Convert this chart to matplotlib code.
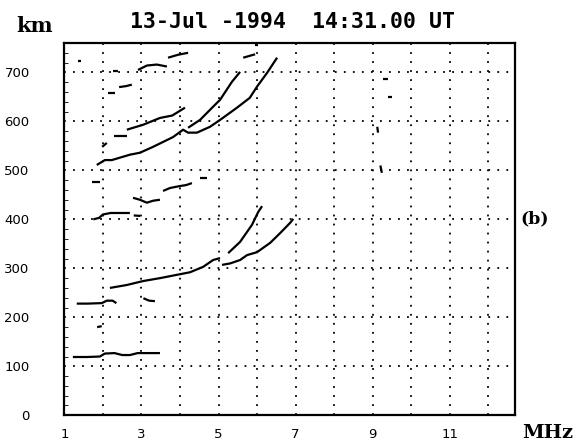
import matplotlib
matplotlib.use('Agg')
import matplotlib.pyplot as plt
from matplotlib.ticker import MultipleLocator

# ionogram traces, frequency in MHz and virtual height in km
e_f = [1.22, 1.6, 1.92, 2.05, 2.3, 2.5, 2.7, 2.9, 3.2, 3.48]
e_h = [119, 119, 120, 126, 127, 123, 123, 127, 127, 127]

es_f = [1.32, 1.6, 1.97, 2.1, 2.25, 2.35]
es_h = [228, 228, 229, 234, 234, 229]
es2_f = [3.05, 3.2, 3.35]
es2_h = [239, 234, 233]
dot180_f = [1.85, 1.97]
dot180_h = [180, 182]

f1_f = [2.18, 2.62, 3.04, 3.48, 4.0, 4.26, 4.6, 4.86, 5.04]
f1_h = [260, 266, 274, 280, 288, 292, 303, 317, 321]
f2x_f = [5.09, 5.3, 5.56, 5.74, 6.0, 6.34, 6.6, 6.86, 6.94]
f2x_h = [307, 310, 317, 327, 333, 352, 372, 393, 401]
f2o_f = [5.25, 5.56, 5.87, 6.03, 6.13]
f2o_h = [331, 354, 389, 415, 427]

p400_f = [1.75, 1.9, 2.0, 2.2, 2.5, 2.7]
p400_h = [400, 403, 410, 413, 413, 413]
p400b_f = [2.8, 2.97]
p400b_h = [408, 407]
w_f = [2.78, 2.96, 3.14, 3.3, 3.48]
w_h = [444, 440, 434, 438, 440]
r470_f = [3.56, 3.74, 4.0, 4.16, 4.31]
r470_h = [458, 464, 468, 470, 474]
d476_f = [1.71, 1.92]
d476_h = [476, 476]
d485_f = [4.52, 4.7]
d485_h = [485, 485]
d550_f = [1.98, 2.1]
d550_h = [548, 556]

m2_f = [1.84, 2.05, 2.23, 2.7, 2.96, 3.3, 3.82, 4.08, 4.21, 4.44, 4.78,
        5.04, 5.48, 5.81, 6.0, 6.26, 6.52]
m2_h = [511, 521, 521, 532, 536, 548, 568, 583, 577, 577, 589,
        603, 628, 648, 671, 699, 730]
m2o_f = [4.21, 4.52, 4.86, 5.04, 5.35, 5.56]
m2o_h = [587, 603, 630, 644, 681, 701]

s600_f = [2.62, 3.04, 3.48, 3.8, 4.13]
s600_h = [583, 593, 607, 612, 628]
d570_f = [2.29, 2.62]
d570_h = [570, 570]
d658_f = [2.13, 2.31]
d658_h = [658, 658]
d670_f = [2.42, 2.6, 2.75]
d670_h = [670, 672, 675]
d702_f = [2.25, 2.4]
d702_h = [702, 702]
t710_f = [2.91, 3.14, 3.4, 3.66]
t710_h = [705, 714, 716, 712]
t740_f = [3.69, 3.95, 4.21]
t740_h = [730, 736, 740]
dot724_f = [1.36, 1.44]
dot724_h = [724, 724]
t735_f = [5.64, 5.95]
t735_h = [730, 737]
d755_f = [5.95, 6.03]
d755_h = [755, 755]
r687_f = [9.27, 9.4]
r687_h = [687, 687]
r650_f = [9.4, 9.5]
r650_h = [650, 650]
r580_f = [9.12, 9.14]
r580_h = [589, 577]
r500_f = [9.2, 9.24]
r500_h = [510, 495]

traces = [(e_f, e_h), (es_f, es_h), (es2_f, es2_h), (dot180_f, dot180_h),
          (f1_f, f1_h), (f2x_f, f2x_h), (f2o_f, f2o_h),
          (p400_f, p400_h), (p400b_f, p400b_h), (w_f, w_h), (r470_f, r470_h),
          (d476_f, d476_h), (d485_f, d485_h), (d550_f, d550_h),
          (m2_f, m2_h), (m2o_f, m2o_h), (s600_f, s600_h), (d570_f, d570_h),
          (d658_f, d658_h), (d670_f, d670_h), (d702_f, d702_h),
          (t710_f, t710_h), (t740_f, t740_h), (dot724_f, dot724_h),
          (t735_f, t735_h), (d755_f, d755_h), (r687_f, r687_h),
          (r650_f, r650_h), (r580_f, r580_h), (r500_f, r500_h)]

fig = plt.figure(figsize=(5.75, 4.48), dpi=100)
ax = fig.add_axes([0.112, 0.073, 0.784, 0.831])

for x in range(2, 13):
    ax.axvline(x, color='black', lw=1.3, ls=(0, (1, 4)), zorder=1)
for y in range(100, 800, 100):
    ax.axhline(y, color='black', lw=1.3, ls=(0, (1, 4)), zorder=1)

for f, h in traces:
    ax.plot(f, h, color='black', lw=1.6, solid_capstyle='butt', zorder=3)

ax.set_xlim(1, 12.7)
ax.set_ylim(0, 760)
ax.set_xticks([1, 3, 5, 7, 9, 11])
ax.set_yticks(range(0, 800, 100))
ax.yaxis.set_minor_locator(MultipleLocator(20))
ax.tick_params(axis='both', which='major', length=0, labelsize=9.5)
ax.tick_params(axis='x', pad=9)
ax.tick_params(axis='y', pad=25)
ax.tick_params(axis='y', which='minor', direction='in', length=3, width=0.6)
for lab in ax.get_xticklabels() + ax.get_yticklabels():
    lab.set_family('DejaVu Sans')
for s in ax.spines.values():
    s.set_linewidth(1.6)

fig.text(0.509, 0.9375, '13-Jul -1994  14:31.00 UT', ha='center', va='baseline',
         family='DejaVu Sans Mono', fontweight='bold', fontsize=15.5)
fig.text(0.060, 0.929, 'km', ha='center', va='baseline',
         family='DejaVu Serif', fontweight='bold', fontsize=15)
fig.text(0.952, 0.022, 'MHz', ha='center', va='baseline',
         family='DejaVu Serif', fontweight='bold', fontsize=14)
fig.text(0.929, 0.511, '(b)', ha='center', va='center',
         family='DejaVu Serif', fontweight='bold', fontsize=12.5)

fig.savefig('out.png', dpi=100)
